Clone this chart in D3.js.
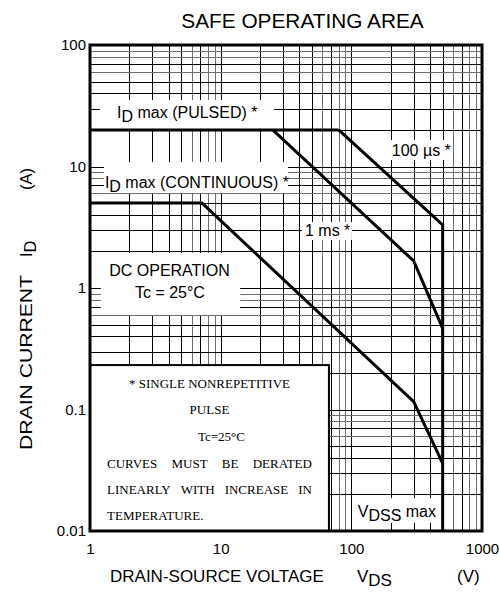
<!DOCTYPE html>
<html>
<head>
<meta charset="utf-8">
<script src="https://cdn.jsdelivr.net/npm/d3@7"></script>
<style>
  body { margin: 0; background: #fff; }
  svg { display: block; }
</style>
</head>
<body>
<div id="chart"></div>
<script>
// --------------- Data ---------------
const xTickValues = [1, 10, 100, 1000];
const xTickLabels = ["1", "10", "100", "1000"];
const yTickValues = [0.01, 0.1, 1, 10, 100];
const yTickLabels = ["0.01", "0.1", "1", "10", "100"];

// boundary curves: V_DS (V) against I_D (A)
const pulsedV = [1, 80];
const pulsedI = [20, 20];
const us100V = [80, 500, 500];
const us100I = [20, 3.3, 0.01];
const ms1V = [25, 300, 500];
const ms1I = [20, 1.67, 0.466];
const dcV = [1, 7.2, 300, 500];
const dcI = [5, 5, 0.116, 0.036];

// annotation labels (segments: [text, isSubscript]) placed in data units
const labelParts = [
  [["I", 0], ["D", 1], [" max (PULSED) *", 0]],
  [["I", 0], ["D", 1], [" max (CONTINUOUS) *", 0]],
  [["100 \u00b5s *", 0]],
  [["1 ms *", 0]],
  [["DC OPERATION", 0]],
  [["Tc = 25\u00b0C", 0]],
  [["V", 0], ["DSS", 1], [" max", 0]],
];
const labelV = [1.61, 1.30, 204, 44.2, 4.06, 4.09, 112];
const labelI = [25.1, 6.65, 12.3, 2.70, 1.244, 0.835, 0.0130];
const labelAnchor = ["start", "start", "start", "start", "middle", "middle", "start"];

// white boxes behind labels: [v0, v1, i0, i1]
const labelBoxes = [
  [1.19, 25.6, 35.3, 20.4],
  [1.28, 32.7, 10.9, 6.05],
  [190, 588, 16.5, 11.3],
  [41.9, 101, 3.49, 2.48],
  [1.21, 14.1, 1.94, 0.60],
  [106.6, 476, 0.0187, 0.01165],
];

// note box (bottom-left)
const noteV = [1, 67.4];
const noteI = [0.232, 0.01];
const noteCentered = ["* SINGLE NONREPETITIVE", "PULSE", "Tc=25\u00b0C"];
const noteJustified = ["CURVES MUST BE DERATED", "LINEARLY WITH INCREASE IN"];
const noteLast = "TEMPERATURE.";

// --------------- Setup ---------------
const W = 500, H = 601;
const SANS = "'Liberation Sans', Arial, sans-serif";
const SERIF = "'Liberation Serif', 'Times New Roman', serif";

const svg = d3.select("#chart").append("svg").attr("width", W).attr("height", H);

const x = d3.scaleLog().domain([1, 1000]).range([90, 482]);
const y = d3.scaleLog().domain([0.01, 100]).range([531, 45]);

const crisp = (v) => Math.round(v) + 0.5;
const mantissa = (d) => Math.round(d / Math.pow(10, Math.floor(Math.log10(d) + 1e-9)));
const gridColor = (d) => ([6, 8, 9].includes(mantissa(d)) ? "#6e6e6e" : "#000");

// --------------- Grid ---------------
const grid = svg.append("g");
grid.selectAll("line.v")
  .data(x.ticks())
  .join("line")
  .attr("class", "v")
  .attr("x1", (d) => crisp(x(d)))
  .attr("x2", (d) => crisp(x(d)))
  .attr("y1", y(100))
  .attr("y2", y(0.01))
  .attr("stroke", gridColor)
  .attr("stroke-width", 1);

grid.selectAll("line.h")
  .data(y.ticks())
  .join("line")
  .attr("class", "h")
  .attr("x1", x(1))
  .attr("x2", x(1000))
  .attr("y1", (d) => crisp(y(d)))
  .attr("y2", (d) => crisp(y(d)))
  .attr("stroke", gridColor)
  .attr("stroke-width", 1);

// white boxes behind labels
svg.append("g")
  .selectAll("rect")
  .data(labelBoxes)
  .join("rect")
  .attr("x", (d) => x(d[0]))
  .attr("y", (d) => y(d[2]))
  .attr("width", (d) => x(d[1]) - x(d[0]))
  .attr("height", (d) => y(d[3]) - y(d[2]))
  .attr("fill", "#fff");

// note box
svg.append("rect")
  .attr("x", x(noteV[0]))
  .attr("y", y(noteI[0]))
  .attr("width", x(noteV[1]) - x(noteV[0]))
  .attr("height", y(noteI[1]) - y(noteI[0]))
  .attr("fill", "#fff")
  .attr("stroke", "#000")
  .attr("stroke-width", 2);

// --------------- Curves ---------------
const line = d3.line().x((d) => x(d[0])).y((d) => y(d[1]));
const curves = [
  d3.zip(pulsedV, pulsedI),
  d3.zip(us100V, us100I),
  d3.zip(ms1V, ms1I),
  d3.zip(dcV, dcI),
];
svg.append("g")
  .selectAll("path")
  .data(curves)
  .join("path")
  .attr("d", line)
  .attr("fill", "none")
  .attr("stroke", "#000")
  .attr("stroke-width", 3);

// --------------- Labels ---------------
const labelG = svg.append("g").attr("font-family", SANS).attr("font-size", 16).attr("fill", "#000");
labelParts.forEach((parts, i) => {
  const t = labelG.append("text")
    .attr("x", x(labelV[i]))
    .attr("y", y(labelI[i]))
    .attr("text-anchor", labelAnchor[i]);
  let shifted = 0;
  parts.forEach(([txt, sub]) => {
    const dy = sub ? 4 - shifted : -shifted;
    shifted = sub ? 4 : 0;
    t.append("tspan").attr("dy", dy).text(txt);
  });
});

// note text
const noteLeft = x(noteV[0]), noteRight = x(noteV[1]), noteTop = y(noteI[0]);
const noteG = svg.append("g").attr("font-family", SERIF).attr("font-size", 13).attr("fill", "#000");
const noteBase = [23, 49, 76, 103, 129, 155];
const noteMid = (noteLeft + noteRight) / 2;
noteCentered.forEach((s, i) => {
  noteG.append("text")
    .attr("x", noteMid + (i === 2 ? 12 : 0))
    .attr("y", noteTop + noteBase[i])
    .attr("text-anchor", "middle")
    .text(s);
});
const jL = noteLeft + 17, jR = noteRight - 17;
noteJustified.forEach((s, i) => {
  const words = s.split(" ");
  const nodes = words.map((w) => noteG.append("text").attr("y", noteTop + noteBase[3 + i]).text(w));
  const widths = nodes.map((n) => n.node().getComputedTextLength());
  const gap = (jR - jL - d3.sum(widths)) / (words.length - 1);
  let cx = jL;
  nodes.forEach((n, k) => {
    n.attr("x", cx);
    cx += widths[k] + gap;
  });
});
noteG.append("text").attr("x", jL).attr("y", noteTop + noteBase[5]).text(noteLast);

// --------------- Frame ---------------
svg.append("rect")
  .attr("x", x(1))
  .attr("y", y(100))
  .attr("width", x(1000) - x(1))
  .attr("height", y(0.01) - y(100))
  .attr("fill", "none")
  .attr("stroke", "#000")
  .attr("stroke-width", 3);

// --------------- Axes ---------------
svg.append("g")
  .attr("transform", `translate(${x(1)},0)`)
  .call(d3.axisLeft(y).tickValues(yTickValues).tickFormat((d, i) => yTickLabels[i]).tickSize(0).tickPadding(4))
  .attr("font-family", SANS)
  .attr("font-size", 15)
  .call((g) => g.select(".domain").remove());

svg.append("g")
  .attr("transform", `translate(0,${y(0.01)})`)
  .call(d3.axisBottom(x).tickValues(xTickValues).tickFormat((d, i) => xTickLabels[i]).tickSize(0).tickPadding(12))
  .attr("font-family", SANS)
  .attr("font-size", 15)
  .call((g) => g.select(".domain").remove());

// --------------- Titles ---------------
svg.append("text")
  .attr("x", 302.5)
  .attr("y", 28)
  .attr("text-anchor", "middle")
  .attr("font-family", SANS)
  .attr("font-size", 20.8)
  .text("SAFE OPERATING AREA");

const xt = svg.append("g").attr("font-family", SANS).attr("font-size", 17);
xt.append("text").attr("x", 110).attr("y", 582).text("DRAIN-SOURCE VOLTAGE");
const vds = xt.append("text").attr("x", 357).attr("y", 582);
vds.append("tspan").text("V");
vds.append("tspan").attr("dy", 4).text("DS");
xt.append("text").attr("x", 457).attr("y", 582).text("(V)");

const yt = svg.append("g").attr("font-family", SANS).attr("font-size", 16.5);
yt.append("text")
  .attr("transform", "translate(32,450) rotate(-90)")
  .attr("textLength", 175)
  .attr("lengthAdjust", "spacingAndGlyphs")
  .text("DRAIN CURRENT");
const idT = yt.append("text").attr("transform", "translate(32,257) rotate(-90)");
idT.append("tspan").text("I");
idT.append("tspan").attr("dy", 4).text("D");
yt.append("text").attr("transform", "translate(32,190) rotate(-90)").text("(A)");
</script>
</body>
</html>
